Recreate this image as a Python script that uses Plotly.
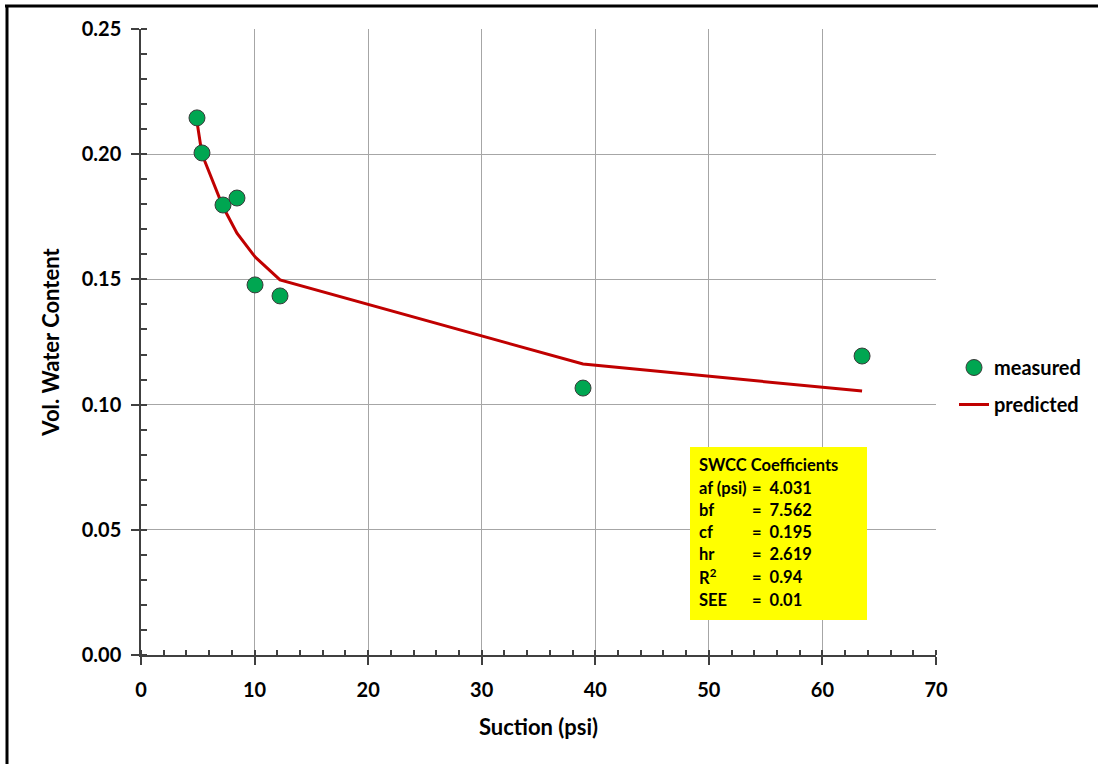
import plotly.graph_objects as go

# Measured suction / volumetric water content pairs
suction = [4.93, 5.37, 7.22, 8.45, 10.04, 12.24, 38.92, 63.49]
vwc_measured = [0.2145, 0.2005, 0.1797, 0.1825, 0.1478, 0.1434, 0.1066, 0.1194]
# Fredlund-Xing fitted curve evaluated at the same suctions
vwc_predicted = [0.2130, 0.2000, 0.1790, 0.1685, 0.1590, 0.1498, 0.1162, 0.1054]

coef_labels = ["af (psi)", "bf", "cf", "hr", "R<sup>2</sup>", "SEE"]
coef_values = ["4.031", "7.562", "0.195", "2.619", "0.94", "0.01"]

W, H = 1098, 764
ML, MR, MT, MB = 141, 162, 29, 109
PW, PH = W - ML - MR, H - MT - MB
XMAX, YMAX = 70, 0.25

FONT = "Lato, 'Open Sans', sans-serif"


def px_to_x(px):
    return (px - ML) / PW * XMAX


def py_to_y(py):
    return (MT + PH - py) / PH * YMAX


fig = go.Figure()

fig.add_trace(go.Scatter(
    x=suction, y=vwc_predicted, mode="lines", name="predicted",
    line=dict(color="#C00000", width=3), legendrank=2, legendgroup="b",
))
fig.add_trace(go.Scatter(
    x=suction, y=vwc_measured, mode="markers", name="measured",
    marker=dict(size=16, color="#00A651", line=dict(color="#3a3a3a", width=1)),
    legendrank=1, legendgroup="a",
))

# Coefficients box
box_x0, box_x1 = px_to_x(690), px_to_x(867)
box_y0, box_y1 = py_to_y(620), py_to_y(447)
shapes = [dict(type="rect", xref="x", yref="y", x0=box_x0, x1=box_x1,
               y0=box_y0, y1=box_y1, fillcolor="#FFFF00", line=dict(width=0),
               layer="above")]

# Outer frame (top and left edges)
shapes.append(dict(type="line", xref="paper", yref="paper",
                   x0=(5 - ML) / PW, x1=(W - ML) / PW,
                   y0=(MT + PH - 6) / PH, y1=(MT + PH - 6) / PH,
                   line=dict(color="black", width=3)))
shapes.append(dict(type="line", xref="paper", yref="paper",
                   x0=(7 - ML) / PW, x1=(7 - ML) / PW,
                   y0=(MT + PH - 5) / PH, y1=(MT + PH - H) / PH,
                   line=dict(color="black", width=3)))

BOXFONT = dict(family=FONT, size=16.5, color="black", weight="bold")
annotations = [dict(xref="x", yref="y", x=px_to_x(697), y=py_to_y(465),
                    text="SWCC Coefficients", showarrow=False, xanchor="left",
                    yanchor="middle", font=BOXFONT)]
row_y = [488, 510, 532, 554, 577, 600]
for lab, val, ry in zip(coef_labels, coef_values, row_y):
    annotations.append(dict(xref="x", yref="y", x=px_to_x(697), y=py_to_y(ry),
                            text=lab, showarrow=False, xanchor="left", yanchor="middle",
                            font=BOXFONT))
    annotations.append(dict(xref="x", yref="y", x=px_to_x(750), y=py_to_y(ry),
                            text="=  " + val, showarrow=False, xanchor="left",
                            yanchor="middle", font=BOXFONT))

axis_common = dict(
    showline=True, linecolor="#404040", linewidth=1.5,
    ticks="outside", ticklen=8, tickwidth=1.5, tickcolor="#404040",
    showgrid=True, gridcolor="#A6A6A6", gridwidth=1,
    zeroline=False,
    tickfont=dict(family=FONT, size=20, color="black", weight="bold"),
)

fig.update_layout(
    width=W, height=H,
    margin=dict(l=ML, r=MR, t=MT, b=MB, autoexpand=False),
    paper_bgcolor="white", plot_bgcolor="white",
    xaxis=dict(range=[0, XMAX], dtick=10, tick0=0, ticklabelstandoff=8,
               minor=dict(dtick=2, ticks="inside", ticklen=5, tickcolor="#404040",
                          tickwidth=1.5, showgrid=False),
               title=dict(text="Suction (psi)", standoff=20,
                          font=dict(family=FONT, size=22, color="black", weight="bold")),
               **axis_common),
    yaxis=dict(range=[0, YMAX], dtick=0.05, tick0=0, tickformat=".2f",
               ticklabelstandoff=6,
               minor=dict(dtick=0.01, ticks="inside", ticklen=6, tickcolor="#404040",
                          tickwidth=1.5, showgrid=False),
               title=dict(text="Vol. Water Content", standoff=16,
                          font=dict(family=FONT, size=22, color="black", weight="bold")),
               **axis_common),
    legend=dict(x=(954 - ML) / PW, y=py_to_y(386) / YMAX, xanchor="left",
                yanchor="middle", bgcolor="rgba(0,0,0,0)", tracegroupgap=8,
                font=dict(family=FONT, size=20, color="black", weight="bold")),
    shapes=shapes,
    annotations=annotations,
)

fig.write_html("out.html")
